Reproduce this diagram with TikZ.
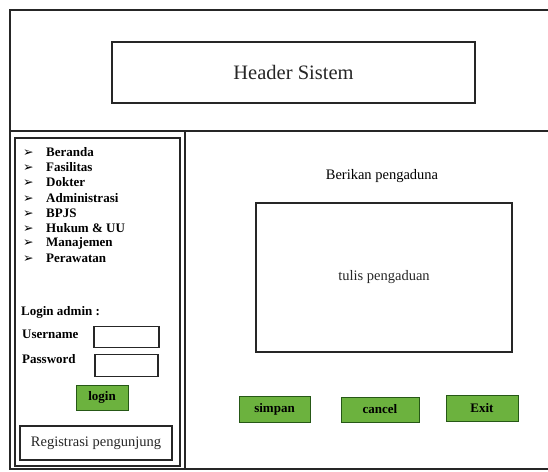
\documentclass[tikz,border=0pt]{standalone}
\usepackage{fontspec}
\setmainfont{Liberation Serif}
\newfontfamily\arrowfont{DejaVu Sans}
\definecolor{btngreen}{RGB}{108,178,62}
\definecolor{btnedge}{RGB}{38,88,22}

\begin{document}
\begin{tikzpicture}[
    x=1pt, y=-1pt,
    frame/.style={line width=1.3pt, black!85},
    box/.style={draw, line width=1.1pt, black!85, inner sep=0pt},
    btn/.style={draw=btnedge, fill=btngreen, line width=1pt, inner sep=0pt,
                font=\fontsize{13}{15}\selectfont\bfseries},
    menu/.style={anchor=west, inner sep=0pt, font=\fontsize{13}{15}\selectfont\bfseries},
    lbl/.style={anchor=west, inner sep=0pt, font=\fontsize{13}{15}\selectfont\bfseries},
    txt/.style={inner sep=0pt, font=\fontsize{14.5}{17}\selectfont}
  ]
    \useasboundingbox (0,0) rectangle (548,471);

    \draw[frame] (548,10) -- (10,10) -- (10,469) -- (548,469);
    \draw[frame] (10,131) -- (548,131);
    \draw[frame] (185,131) -- (185,469);

    \node[box, minimum width=363pt, minimum height=61pt,
          font=\fontsize{20.5}{24}\selectfont] (header) at (293.5,72.5) {Header Sistem};

    \node[box, minimum width=165pt, minimum height=328pt] (sidebar) at (97.5,302) {};

    \node[menu] (beranda)   at (23,152.0) {\makebox[23pt][l]{\arrowfont\fontsize{12.5}{12}\selectfont ➢}Beranda};
    \node[menu] (fasilitas) at (23,167.2) {\makebox[23pt][l]{\arrowfont\fontsize{12.5}{12}\selectfont ➢}Fasilitas};
    \node[menu] (dokter)    at (23,182.4) {\makebox[23pt][l]{\arrowfont\fontsize{12.5}{12}\selectfont ➢}Dokter};
    \node[menu] (admin)     at (23,197.6) {\makebox[23pt][l]{\arrowfont\fontsize{12.5}{12}\selectfont ➢}Administrasi};
    \node[menu] (bpjs)      at (23,212.8) {\makebox[23pt][l]{\arrowfont\fontsize{12.5}{12}\selectfont ➢}BPJS};
    \node[menu] (hukum)     at (23,228.0) {\makebox[23pt][l]{\arrowfont\fontsize{12.5}{12}\selectfont ➢}Hukum \& UU};
    \node[menu] (manajemen) at (23,243.2) {\makebox[23pt][l]{\arrowfont\fontsize{12.5}{12}\selectfont ➢}Manajemen};
    \node[menu] (perawatan) at (23,258.4) {\makebox[23pt][l]{\arrowfont\fontsize{12.5}{12}\selectfont ➢}Perawatan};

    \node[lbl] (loginadmin) at (21,312) {Login admin :};
    \node[lbl] (username)   at (22,334) {Username};
    \node[lbl] (password)   at (22,359) {Password};
    \node[box, minimum width=65pt, minimum height=21pt] (userbox) at (126.5,337) {};
    \node[box, minimum width=63pt, minimum height=22pt] (passbox) at (126.5,365.5) {};
    \node[btn, minimum width=52pt, minimum height=25pt] (login) at (102,397.5) {login};

    \node[box, txt, minimum width=152pt, minimum height=34pt] (registrasi) at (96,443) {Registrasi pengunjung};

    \node[txt] (judul) at (382,176) {Berikan pengaduna};
    \node[box, txt, minimum width=256pt, minimum height=149pt] (isian) at (384,277.5) {tulis pengaduan};

    \node[btn, minimum width=71pt, minimum height=26pt] (simpan) at (274.5,409) {simpan};
    \node[btn, minimum width=78pt, minimum height=25pt] (cancel) at (380,409.5) {cancel};
    \node[btn, minimum width=72pt, minimum height=26pt] (exit)   at (482,408) {Exit};
\end{tikzpicture}
\end{document}
